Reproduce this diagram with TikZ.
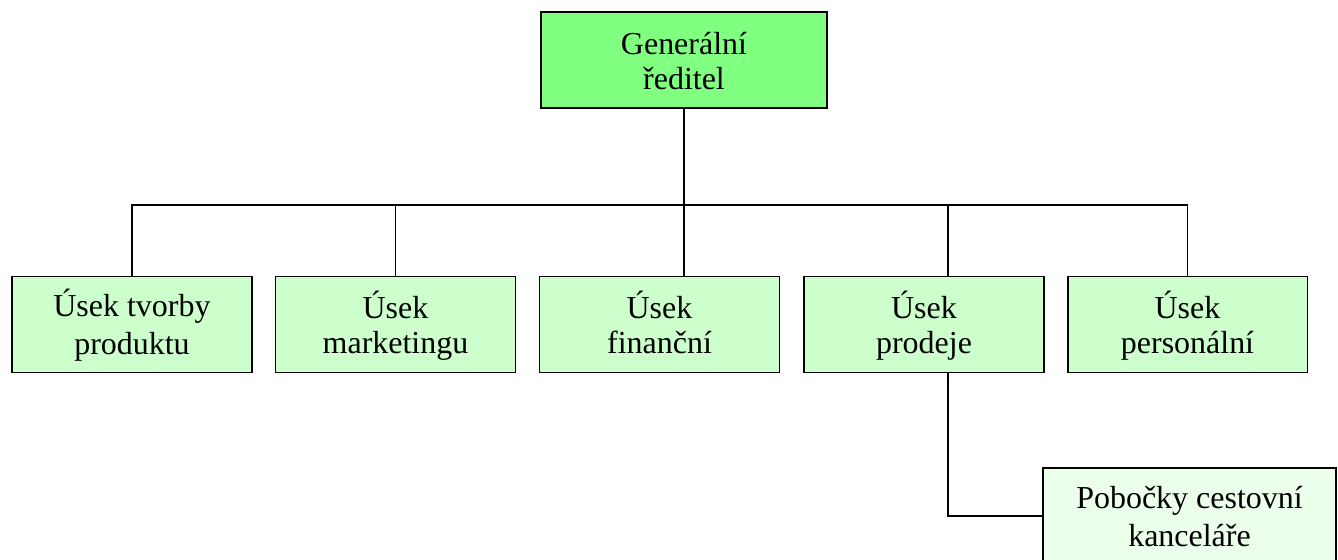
\documentclass[tikz,border=0pt]{standalone}
\usepackage{fontspec}
\setmainfont{Liberation Serif}
\definecolor{chiefgreen}{HTML}{80FF80}
\definecolor{deptgreen}{HTML}{CCFFCC}
\definecolor{branchgreen}{HTML}{EBFFEB}
% strut that fixes the height and depth of every text line in a box
\newcommand\rowstrut{\rule[-3.1pt]{0pt}{19.6pt}}
\begin{document}
\begin{tikzpicture}[x=0.02cm,y=-0.02cm,
  box/.style={draw=black, line width=1.1pt, align=center, inner sep=0pt,
    minimum height=1.92cm, font=\fontsize{18.2}{19.9}\selectfont},
  chief/.style={box, fill=chiefgreen, minimum width=5.72cm},
  dept/.style={box, fill=deptgreen, minimum width=4.8cm},
  branch/.style={box, fill=branchgreen, minimum width=5.86cm},
  link/.style={line width=1.1pt}]
\useasboundingbox (0,0) rectangle (1338,559);

% general director
\node[chief] (gd) at (684,60) {\rowstrut Generální\\\rowstrut ředitel};

% departments
\node[dept] (d1) at (132,324.5)   {\rowstrut Úsek tvorby\\\rowstrut produktu};
\node[dept] (d2) at (395.5,324.5) {\rowstrut Úsek\\\rowstrut marketingu};
\node[dept] (d3) at (659.5,324.5) {\rowstrut Úsek\\\rowstrut finanční};
\node[dept] (d4) at (924,324.5)   {\rowstrut Úsek\\\rowstrut prodeje};
\node[dept] (d5) at (1187.5,324.5){\rowstrut Úsek\\\rowstrut personální};

% branch offices under sales
\node[branch] (br) at (1189.5,516) {\rowstrut Pobočky cestovní\\\rowstrut kanceláře};

% connection points
\coordinate (bus) at (684,205);
\coordinate (tap) at (948,205);

% connectors
\draw[link] (d1.north) |- (bus) -| (d5.north);
\draw[link] (gd.south) -- (gd.south |- d3.north);
\draw[link] (d2.north) -- (d2.north |- bus);
\draw[link] (tap) -- (tap |- d4.north);
\draw[link] (tap |- d4.south) |- (br.west);
\end{tikzpicture}
\end{document}
